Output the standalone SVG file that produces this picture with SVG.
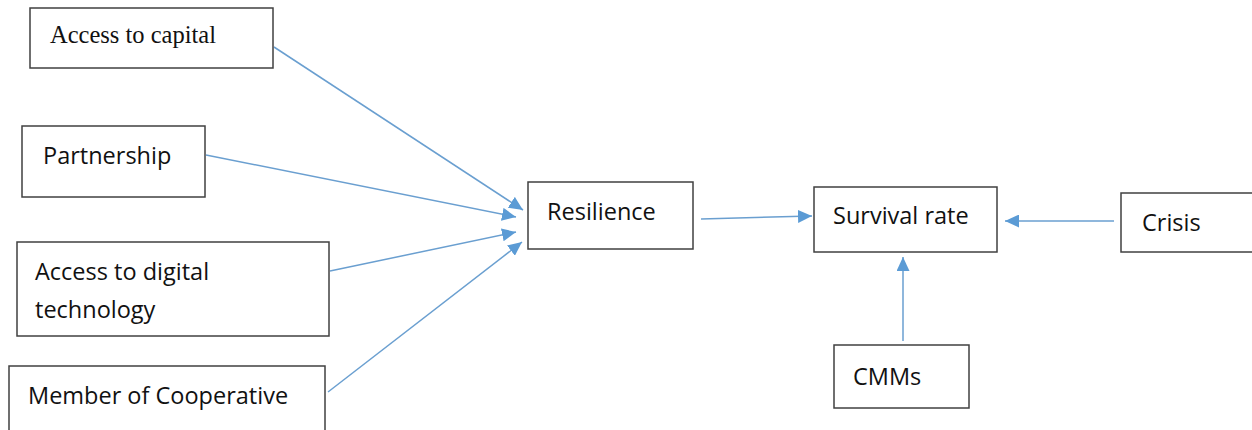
<svg xmlns="http://www.w3.org/2000/svg" width="1252" height="430" viewBox="0 0 1252 430">
<style>
.box{fill:#fff;stroke:#404040;stroke-width:1.5}
.t{font-family:"Open Sans","Liberation Sans",sans-serif;font-size:23.5px;fill:#111}
.s{font-family:"Liberation Serif",serif;font-size:24.5px;fill:#111}
.c{stroke:#6a9fd0;stroke-width:1.5;fill:none;marker-end:url(#ah)}
</style>
<defs>
<marker id="ah" markerUnits="userSpaceOnUse" markerWidth="15" markerHeight="13" refX="14" refY="6.5" orient="auto">
<path d="M0,0 L14,6.5 L0,13 Z" fill="#5b9bd5"/>
</marker>
</defs>
<rect width="1252" height="430" fill="#fff"/>
<g id="connectors">
<line class="c" x1="274" y1="47" x2="523" y2="210"/>
<line class="c" x1="206" y1="155" x2="516" y2="217"/>
<line class="c" x1="330" y1="271" x2="516" y2="232"/>
<line class="c" x1="328" y1="392" x2="522" y2="242"/>
<line class="c" x1="701" y1="219" x2="812" y2="216"/>
<line class="c" x1="1114" y1="221" x2="1005" y2="221"/>
<line class="c" x1="903" y1="341" x2="903" y2="257"/>
</g>
<g id="n-capital"><rect class="box" x="30" y="8" width="243" height="60"/><text class="s" x="50" y="43">Access to capital</text></g>
<g id="n-partnership"><rect class="box" x="22" y="126" width="183" height="71"/><text class="t" x="43" y="164">Partnership</text></g>
<g id="n-digital"><rect class="box" x="17" y="242" width="312" height="94"/><text class="t" x="35" y="280">Access to digital</text><text class="t" x="35" y="318">technology</text></g>
<g id="n-coop"><rect class="box" x="9" y="366" width="316" height="66"/><text class="t" x="28" y="404">Member of Cooperative</text></g>
<g id="n-resilience"><rect class="box" x="528" y="182" width="165" height="67"/><text class="t" x="547" y="220">Resilience</text></g>
<g id="n-survival"><rect class="box" x="814" y="187" width="183" height="65"/><text class="t" x="833" y="224">Survival rate</text></g>
<g id="n-crisis"><rect class="box" x="1121" y="193" width="135" height="59"/><text class="t" x="1142" y="231">Crisis</text></g>
<g id="n-cmms"><rect class="box" x="834" y="345" width="135" height="63"/><text class="t" x="853" y="385">CMMs</text></g>
</svg>
